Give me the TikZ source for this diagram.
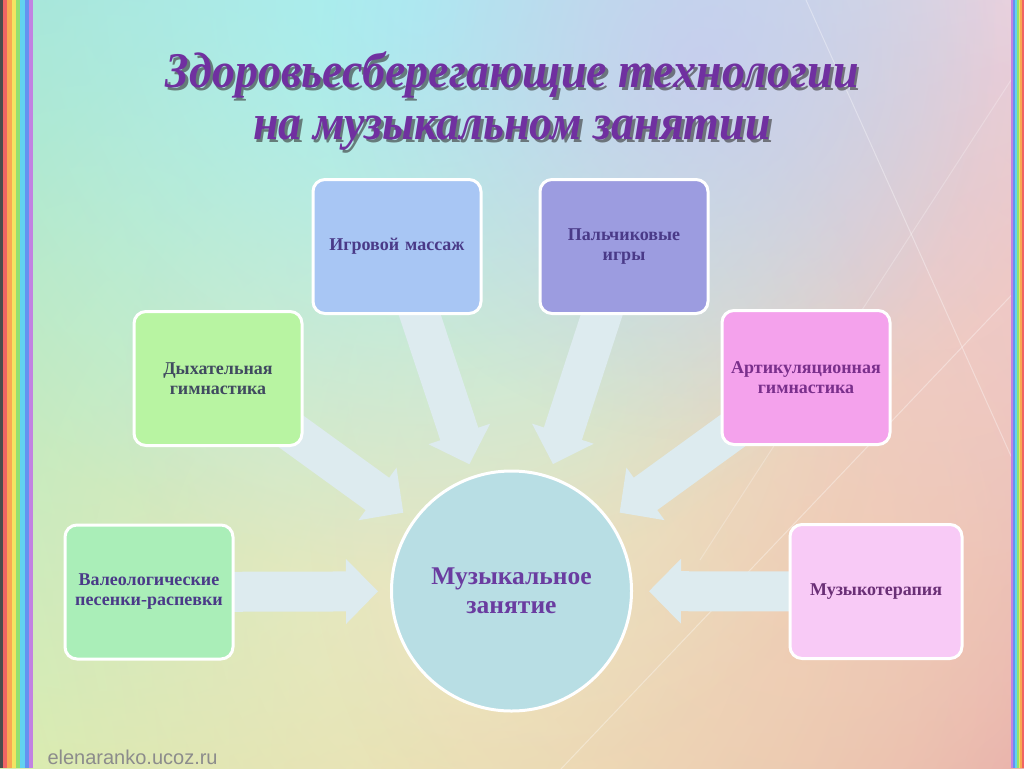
\documentclass[tikz,border=0pt]{standalone}
\usepackage{fontspec}
\setmainfont{Liberation Serif}
\newfontfamily\wmfont{Liberation Sans}
\usetikzlibrary{arrows.meta,fadings,shadings}
\tikzfading[name=glowfade, inner color=transparent!0, outer color=transparent!100]
\pgfdeclarelayer{back}
\pgfdeclarelayer{arr}
\pgfsetlayers{back,arr,main}
\definecolor{bgUL}{HTML}{A0E0D4}
\definecolor{bgUR}{HTML}{EED4E2}
\definecolor{bgLL}{HTML}{DCEEA8}
\definecolor{bgLR}{HTML}{E6A4A8}
\definecolor{glCyan}{HTML}{A8F0F2}
\definecolor{glLav}{HTML}{C8CCF0}
\definecolor{glYel}{HTML}{F2EEC0}
\definecolor{glPale}{HTML}{E6E8C6}
\definecolor{glPeach}{HTML}{F4CCB4}
\definecolor{glPink}{HTML}{F0CCC8}
\definecolor{glGreen}{HTML}{B8ECC2}
\definecolor{stR}{HTML}{F06464}
\definecolor{stO}{HTML}{F8A852}
\definecolor{stY}{HTML}{F2E462}
\definecolor{stG}{HTML}{92E070}
\definecolor{stC}{HTML}{62D2F0}
\definecolor{stB}{HTML}{6492F0}
\definecolor{stV}{HTML}{C282E2}
\definecolor{arrcol}{HTML}{DDEBEF}
\definecolor{fIgr}{HTML}{A8C6F4}
\definecolor{fPal}{HTML}{9C9CE0}
\definecolor{fDyh}{HTML}{B8F4A2}
\definecolor{fVal}{HTML}{AAEEB8}
\definecolor{fArt}{HTML}{F4A2EC}
\definecolor{fMus}{HTML}{F8CAF6}
\definecolor{fCirc}{HTML}{B8DEE4}
\definecolor{tNavy}{HTML}{4A3A88}
\definecolor{tGray}{HTML}{404A60}
\definecolor{tMag}{HTML}{7A2F8C}
\definecolor{tPlum}{HTML}{6A2F76}
\definecolor{tCirc}{HTML}{6A3CA0}
\definecolor{titlecol}{HTML}{7030A0}
\tikzset{
  box/.style={rectangle, rounded corners=12pt, draw=white, line width=3pt,
    minimum width=168pt, minimum height=134pt, text width=162pt, align=center,
    font=\bfseries\fontsize{18}{20}\selectfont, inner sep=0pt},
  bigarr/.style={draw=arrcol, line width=40pt, -{Triangle[length=32pt,width=63pt]},
    shorten >=12pt},
  glow/.style={path fading=glowfade},
  titletext/.style={font=\bfseries\itshape\fontsize{50}{52}\selectfont, align=center}
}
\newcommand{\ttl}{\scalebox{0.92}[1]{Здоровьесберегающие технологии}\\\scalebox{0.92}[1]{на музыкальном занятии}}
\begin{document}
\begin{tikzpicture}[x=1pt,y=-1pt]
\useasboundingbox (0,0) rectangle (1024,768);
% nodes
\node[box, fill=fIgr, text=tNavy] (igr) at (397,246.5) {Игровой массаж};
\node[box, fill=fPal, text=tNavy] (pal) at (624,246.5) {Пальчиковые\\игры};
\node[box, fill=fDyh, text=tGray] (dyh) at (218,378.5) {Дыхательная\\гимнастика};
\node[box, fill=fArt, text=tMag] (art) at (806,377.5) {Артикуляционная\\гимнастика};
\node[box, fill=fVal, text=tNavy] (val) at (149,592) {Валеологические\\песенки-распевки};
\node[box, fill=fMus, text=tPlum, minimum width=172pt] (mus) at (876,591.5) {Музыкотерапия};
\node[circle, draw=white, line width=3pt, fill=fCirc, minimum size=240pt, inner sep=0pt,
  text=tCirc, align=center, font=\bfseries\fontsize{25.5}{29}\selectfont] (circ) at (511.5,591) {Музыкальное\\занятие};
% title
\node[titletext, text=black!80, opacity=0.6] at (514.8,103.8) {\ttl};
\node[titletext, text=titlecol] (title) at (512,101) {\ttl};
\node[font=\wmfont\fontsize{20}{22}\selectfont, text=black!45, anchor=base west] (wm) at (44,764) {elenaranko.ucoz.ru};
% arrows
\begin{pgfonlayer}{arr}
\draw[bigarr] (val.center) -- (circ);
\draw[bigarr] (dyh.center) -- (circ);
\draw[bigarr] (igr.center) -- (circ);
\draw[bigarr] (pal.center) -- (circ);
\draw[bigarr] (art.center) -- (circ);
\draw[bigarr, shorten >=16pt] (mus.center) -- (circ);
\end{pgfonlayer}
% background
\begin{pgfonlayer}{back}
\shade[upper left=bgUL, upper right=bgUR, lower left=bgLL, lower right=bgLR] (0,0) rectangle (1024,768);
\fill[glGreen, glow, opacity=0.85] (100,360) circle (540);
\fill[glYel, glow, opacity=0.85] (480,600) circle (640);
\fill[glPeach, glow, opacity=0.7] (810,520) circle (500);
\fill[glPink, glow, opacity=0.7] (930,240) circle (380);
\fill[glPale, glow, opacity=0.85] (505,390) circle (380);
\fill[glCyan, glow] (420,0) circle (580);
\fill[glLav, glow, opacity=0.85] (700,60) circle (380);
\draw[white, opacity=0.35, line width=1pt] (806,0) -- (1024,485);
\draw[white, opacity=0.35, line width=1pt] (1024,282) -- (560,770);
\draw[white, opacity=0.25, line width=1pt] (1024,60) -- (700,560);
\fill[black!70] (0,0) rectangle (3,768);
\foreach \c [count=\i from 0] in {stR,stO,stY,stG,stC,stB,stV}
  \fill[\c] ({3+\i*4.3},0) rectangle ({7.4+\i*4.3},768);
\foreach \c [count=\i from 0] in {stV,stB,stC,stG,stY,stO,stR}
  \fill[\c] ({1011.4+\i*1.8},0) rectangle ({1013.3+\i*1.8},768);
\end{pgfonlayer}
\end{tikzpicture}
\end{document}
